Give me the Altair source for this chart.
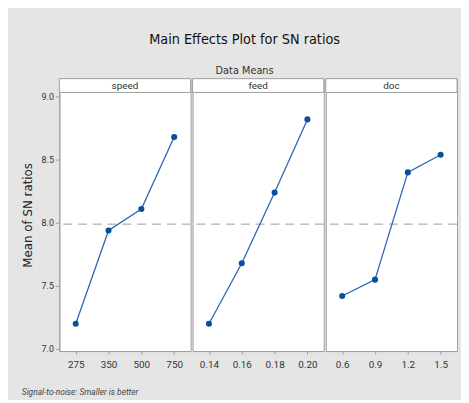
import altair as alt
import pandas as pd

factors = ["speed", "feed", "doc"]
speed_levels = ["275", "350", "500", "750"]
speed_means = [7.20, 7.94, 8.11, 8.68]
feed_levels = ["0.14", "0.16", "0.18", "0.20"]
feed_means = [7.20, 7.68, 8.24, 8.82]
doc_levels = ["0.6", "0.9", "1.2", "1.5"]
doc_means = [7.42, 7.55, 8.40, 8.54]
overall_mean = [7.99]
y_ticks = [7.0, 7.5, 8.0, 8.5, 9.0]

W = 133
H = 276
STRIP = 14
YDOM = [6.984, 9.143]
FONT = "Roboto"
LINE_C = "#2b66b0"
PT_C = "#0a4f9e"
AX_C = "#a0a0a0"


def panel(name, levels, means, first):
    df = pd.DataFrame({"level": levels, "mean": means})
    if first:
        yaxis = alt.Axis(values=y_ticks, format=".1f", title="Mean of SN ratios",
                         tickSize=4, labelFontSize=9, labelColor="#333",
                         domainColor=AX_C, tickColor=AX_C, grid=False,
                         titleFontSize=12, titleFontWeight="normal", titleColor="#222",
                         minExtent=20, maxExtent=20, titlePadding=5, labelFont=FONT,
                         titleFont="DejaVu Sans")
    else:
        yaxis = None
    y = alt.Y("mean:Q", scale=alt.Scale(domain=YDOM, nice=False, zero=False), axis=yaxis)
    x = alt.X("level:N", sort=levels, title=None,
              scale=alt.Scale(type="point", padding=0.5),
              axis=alt.Axis(labelAngle=0, tickSize=3, labelPadding=6, labelFontSize=10,
                            labelColor="#333", domainColor=AX_C, tickColor=AX_C,
                            labelFont=FONT, grid=False))
    base = alt.Chart(df)
    line = base.mark_line(color=LINE_C, strokeWidth=1.3).encode(x=x, y=y)
    pts = base.mark_circle(color=PT_C, size=38, opacity=1).encode(x=x, y=y)
    ref = alt.Chart(pd.DataFrame({"mean": overall_mean})).mark_rule(
        color="#9a9a9a", strokeDash=[9, 6], strokeWidth=1).encode(y=y)
    sdf = pd.DataFrame({"f": [name]})
    strip_rect = alt.Chart(sdf).mark_rect(fill="white", stroke=AX_C, strokeWidth=1).encode(
        x=alt.value(0), x2=alt.value(W), y=alt.value(0), y2=alt.value(STRIP))
    strip_text = alt.Chart(sdf).mark_text(fontSize=10, color="#333", font=FONT).encode(
        x=alt.value(W / 2), y=alt.value(STRIP / 2 + 0.5), text="f:N")
    layers = [ref, line, pts, strip_rect, strip_text]
    if first:
        foot = alt.Chart(pd.DataFrame({"t": ["Signal-to-noise: Smaller is better"]})).mark_text(
            fontSize=8.5, fontStyle="italic", color="#444", align="left", font=FONT).encode(
            x=alt.value(-38), y=alt.value(H + 42), text="t:N")
        layers.append(foot)
    return alt.layer(*layers).properties(width=W, height=H)


chart = alt.hconcat(
    panel(factors[0], speed_levels, speed_means, True),
    panel(factors[1], feed_levels, feed_means, False),
    panel(factors[2], doc_levels, doc_means, False),
    spacing=0,
).properties(
    title=alt.TitleParams("Main Effects Plot for SN ratios", subtitle="Data Means",
                          fontSize=14.5, subtitleFontSize=11, fontWeight="normal",
                          font="DejaVu Sans Condensed", subtitleFont="DejaVu Sans Condensed",
                          color="#111", subtitleColor="#333", anchor="middle",
                          subtitlePadding=18, offset=1, dx=5),
    background="#e5e5e5",
    padding={"left": 13, "top": 21, "right": 3, "bottom": 0},
).configure_view(stroke=AX_C, fill="white").configure_concat(spacing=0)

chart.save("out.html", embed_options={"renderer": "svg", "actions": False})
